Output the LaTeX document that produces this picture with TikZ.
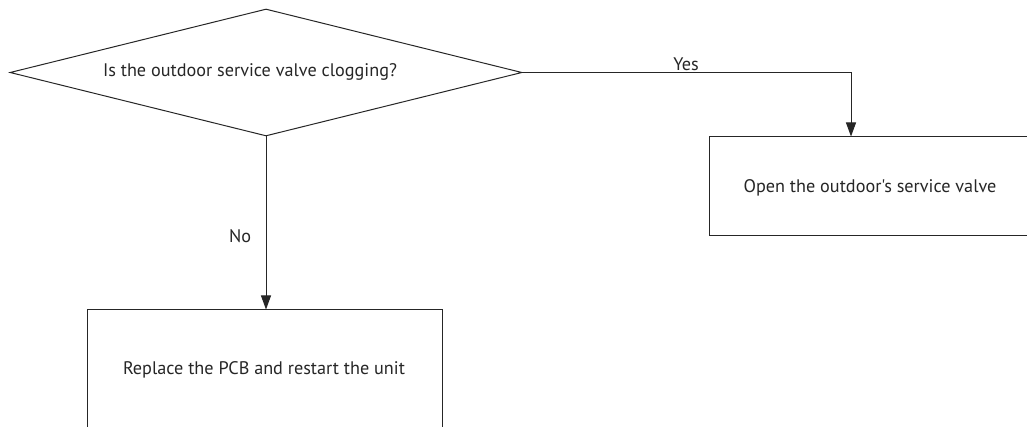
\documentclass[tikz,border=0pt]{standalone}
\usepackage{fontspec}
\setmainfont{PT Sans}[Ligatures=TeXOff]
\usetikzlibrary{shapes.geometric,arrows.meta}
\begin{document}
\begin{tikzpicture}[x=1pt,y=-1pt,
  line width=1pt, draw=black!85,
  every node/.style={font=\fontsize{18.2}{21}\selectfont, text=black!85},
  decision/.style={draw, diamond, minimum width=512pt, minimum height=127pt, inner sep=0pt},
  action/.style={draw, rectangle, inner sep=0pt},
  flow/.style={-{Triangle[length=14pt,width=10pt]}},
  lab/.style={inner sep=1pt}]
\useasboundingbox (0,0) rectangle (1027,427);
\clip (0,0) rectangle (1027,427);
\node[decision] (d) at (266,72.5) {};
\node (dt) at (250,72) {Is the outdoor service valve clogging?};
\node[action, minimum width=326pt, minimum height=99pt] (r) at (872,186.5) {};
\node (rt) at (870,188) {Open the outdoor's service valve};
\node[action, minimum width=355pt, minimum height=120pt] (b) at (264.5,370) {};
\node (bt) at (264,370) {Replace the PCB and restart the unit};
\coordinate (yc) at (851,72.5);
\draw[flow] (d.east) -- (yc) -- (yc |- r.north);
\draw[flow] (d.south) -- (d.south |- b.north);
\node[lab] (yes) at (686,64) {Yes};
\node[lab] (no) at (240,236) {No};
\end{tikzpicture}
\end{document}
